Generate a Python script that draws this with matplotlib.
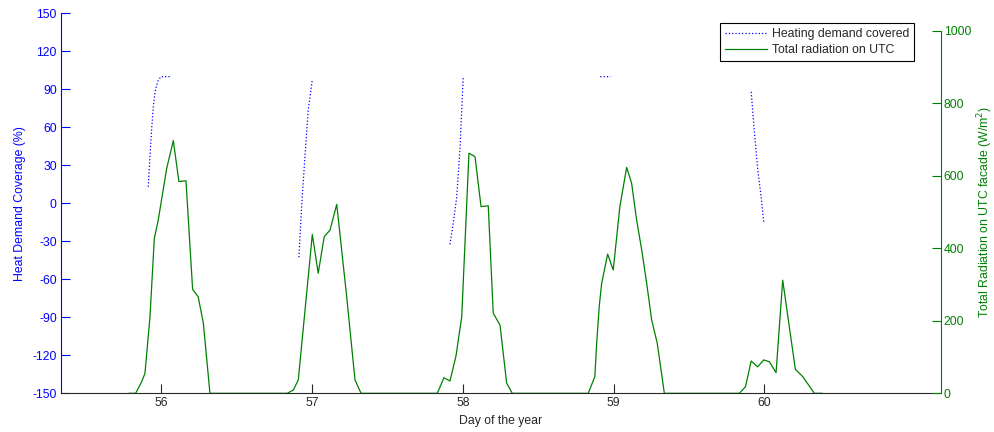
import numpy as np
import matplotlib
matplotlib.use("Agg")
import matplotlib.pyplot as plt

plt.rcParams['font.family'] = ['Liberation Sans', 'DejaVu Sans']
plt.rcParams['axes.unicode_minus'] = False

# ---- data ----
rad_day = [55.787, 55.830, 55.870, 55.892, 55.925, 55.954, 55.980, 56.036, 56.080, 56.117, 56.164,
           56.208, 56.245, 56.279, 56.323,
           56.836, 56.876, 56.909, 57.002, 57.041, 57.081, 57.119, 57.164, 57.230, 57.285, 57.325,
           57.831, 57.875, 57.915, 57.955, 57.993, 58.041, 58.081, 58.121, 58.169, 58.202, 58.247,
           58.291, 58.328,
           58.832, 58.876, 58.888, 58.905, 58.921, 58.961, 58.998, 59.042, 59.087, 59.120, 59.153,
           59.187, 59.220, 59.253, 59.290, 59.337,
           59.835, 59.875, 59.913, 59.956, 59.996, 60.034, 60.078, 60.122, 60.206, 60.255, 60.332,
           60.383]
rad_val = [0, 0, 32, 55, 210, 427, 478, 620, 697, 584, 586,
           287, 266, 194, 0,
           0, 9, 37, 438, 331, 432, 450, 521, 266, 37, 0,
           0, 43, 34, 103, 211, 662, 653, 515, 517, 221, 188,
           28, 0,
           0, 46, 138, 239, 303, 384, 340, 515, 623, 579, 478,
           395, 303, 202, 138, 0,
           0, 18, 89, 73, 92, 87, 57, 312, 66, 46, 0,
           0]

heat_day = [55.914, 55.925, 55.936, 55.947, 55.958, 55.969, 55.980, 55.998, 56.062, np.nan,
            56.913, 56.931, 56.953, 56.975, 57.002, np.nan,
            57.915, 57.937, 57.960, 57.982, 57.993, 58.003, np.nan,
            58.912, 58.980, np.nan,
            59.913, 59.935, 59.957, 59.979, 59.996]
heat_val = [13, 37, 58, 76, 87, 93, 97, 100, 100, np.nan,
            -42.6, -2.7, 36.8, 73.7, 97.9, np.nan,
            -32.4, -15.8, 5.2, 44.7, 73.7, 100, np.nan,
            100, 100, np.nan,
            88, 55, 26, 5, -14.5]

x_ticks = [56, 57, 58, 59, 60]
left_ticks = [-150, -120, -90, -60, -30, 0, 30, 60, 90, 120, 150]
right_ticks = [0, 200, 400, 600, 800, 1000]

BLUE = (0, 0, 1)
GREEN = (0, 0.5, 0)
FS = 8.8

W, H = 995, 432
fig = plt.figure(figsize=(W / 100, H / 100), dpi=100)

x0, x1 = 61, 941
ybot = 393.3
ax1 = fig.add_axes([x0 / W, (H - ybot) / H, (x1 - x0) / W, (ybot - 13.3) / H])
ax2 = fig.add_axes([x0 / W, (H - ybot) / H, (x1 - x0) / W, (ybot - 30.7) / H])
ax2.patch.set_visible(False)

xlim = (55.335, 61.172)

# left axes
h1, = ax1.plot(heat_day, heat_val, linestyle=':', color=BLUE, lw=0.9,
               label='Heating demand covered')
ax1.set_xlim(*xlim)
ax1.set_ylim(-150, 150)
ax1.set_yticks(left_ticks)
ax1.set_xticks(x_ticks)
for s in ['top', 'right']:
    ax1.spines[s].set_visible(False)
ax1.spines['left'].set_color(BLUE)
ax1.spines['bottom'].set_color('#262626')
ax1.tick_params(axis='y', direction='in', length=6.5, colors=BLUE, labelsize=FS, pad=3)
ax1.tick_params(axis='x', direction='in', length=6.5, color='#262626', labelcolor='#262626',
                labelsize=FS, pad=3)
ax1.set_ylabel('Heat Demand Coverage (%)', color=BLUE, fontsize=FS, labelpad=5)
ax1.set_xlabel('Day of the year', color='#262626', fontsize=FS, labelpad=4)

# right axes
h2, = ax2.plot(rad_day, rad_val, linestyle='-', color=GREEN, lw=0.9,
               label='Total radiation on UTC')
ax2.set_xlim(*xlim)
ax2.set_ylim(0, 1000)
ax2.set_yticks(right_ticks)
ax2.yaxis.tick_right()
ax2.yaxis.set_label_position('right')
ax2.set_xticks([])
for s in ['top', 'left', 'bottom']:
    ax2.spines[s].set_visible(False)
ax2.spines['right'].set_color(GREEN)
ax2.tick_params(axis='y', direction='in', length=6.5, colors=GREEN, labelsize=FS, pad=2)
ax2.set_ylabel('Total Radiation on UTC facade (W/m$^2$)', color=GREEN, fontsize=FS,
               labelpad=3)

leg = ax2.legend(handles=[h1, h2], loc='upper right', bbox_to_anchor=(914.3 / W, (H - 23.3) / H),
                 bbox_transform=fig.transFigure, fontsize=FS, frameon=True, fancybox=False,
                 edgecolor='black', framealpha=1, borderpad=0.4, handlelength=3.4,
                 handletextpad=0.45, labelspacing=0.3, borderaxespad=0)
leg.get_frame().set_linewidth(0.8)
for t in leg.get_texts():
    t.set_color('#262626')

fig.savefig('out.png', dpi=100)
